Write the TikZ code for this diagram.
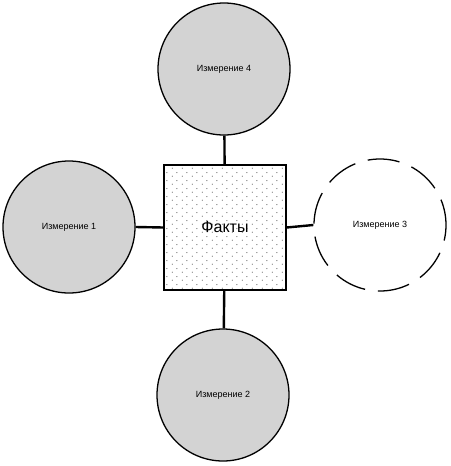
\documentclass[tikz,border=0pt]{standalone}
\usepackage{fontspec}
\setmainfont{Liberation Sans}
\usetikzlibrary{patterns.meta}
\definecolor{dimgray}{RGB}{211,211,211}
\tikzdeclarepattern{
  name=factdots, type=uncolored,
  bounding box={(0pt,0pt) and (10pt,8pt)},
  tile size={(10pt,8pt)},
  code={\fill (2.5pt,2pt) circle (0.6pt); \fill (7.5pt,6pt) circle (0.6pt);}
}
\tikzset{
  dim/.style={circle, draw, line width=1.3pt, fill=dimgray, minimum size=132pt, inner sep=0pt, font=\fontsize{9}{11}\selectfont},
  dimopt/.style={dim, fill=none, dash pattern=on 32pt off 13pt, dash phase=6pt},
  fact/.style={draw, line width=1.3pt, minimum width=122pt, minimum height=125pt, inner sep=0pt,
    pattern={factdots}, pattern color=black!65, font=\fontsize{16}{18}\selectfont},
  link/.style={line width=2.4pt}
}

\begin{document}
\begin{tikzpicture}[x=1pt, y=1pt]
		\useasboundingbox (0,0) rectangle (450,-466);
		\node[fact] (F) at (225,-227.5) {Факты};
		\node[dim] (D4) at (224,-69) {Измерение 4};
		\node[dim] (D1) at (69,-227) {Измерение 1};
		\node[dimopt] (D3) at (380,-225) {Измерение 3};
		\node[dim] (D2) at (223,-395) {Измерение 2};
		\draw[link] (D4) -- (F);
		\draw[link] (D1.east) -- (F.west);
		\draw[link] (F.east) -- (D3.west);
		\draw[link] (F) -- (D2);
	\end{tikzpicture}
\end{document}
